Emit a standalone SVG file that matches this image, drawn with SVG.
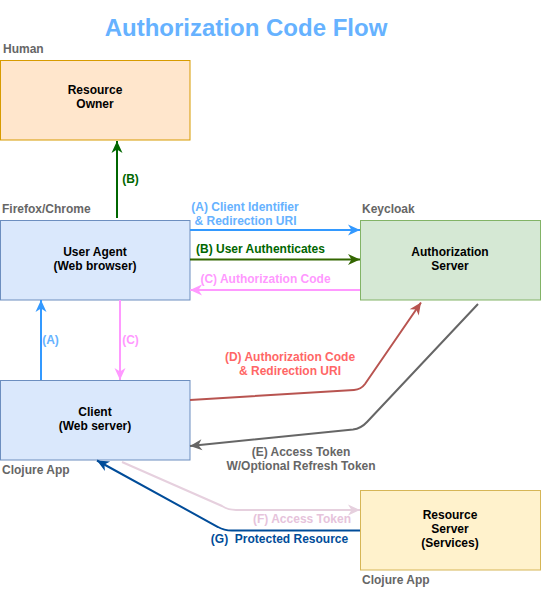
<svg xmlns="http://www.w3.org/2000/svg" width="541" height="591" viewBox="0 0 541 591">
<style>
text{font-family:"Liberation Sans",Arial,Helvetica,sans-serif;font-weight:bold;font-size:12px}
.title{font-size:24px;fill:#66B2FF}
.node{fill:#000;text-anchor:middle}
.tag{fill:#666666}
.lbl{text-anchor:middle}
.pre{white-space:pre}
.edge{fill:none;stroke-width:2}
</style>
<defs>
<marker id="mBlue" markerUnits="userSpaceOnUse" markerWidth="12" markerHeight="11" refX="12" refY="5.5" orient="auto" overflow="visible"><path d="M0,0 L12,5.5 L0,11 L3.5,5.5 Z" fill="#3399FF"/></marker>
<marker id="mGreen" markerUnits="userSpaceOnUse" markerWidth="12" markerHeight="11" refX="12" refY="5.5" orient="auto" overflow="visible"><path d="M0,0 L12,5.5 L0,11 L3.5,5.5 Z" fill="#006600"/></marker>
<marker id="mOlive" markerUnits="userSpaceOnUse" markerWidth="12" markerHeight="11" refX="12" refY="5.5" orient="auto" overflow="visible"><path d="M0,0 L12,5.5 L0,11 L3.5,5.5 Z" fill="#336600"/></marker>
<marker id="mPink" markerUnits="userSpaceOnUse" markerWidth="12" markerHeight="11" refX="12" refY="5.5" orient="auto" overflow="visible"><path d="M0,0 L12,5.5 L0,11 L3.5,5.5 Z" fill="#FF99FF"/></marker>
<marker id="mRed" markerUnits="userSpaceOnUse" markerWidth="12" markerHeight="11" refX="12" refY="5.5" orient="auto" overflow="visible"><path d="M0,0 L12,5.5 L0,11 L3.5,5.5 Z" fill="#B85450"/></marker>
<marker id="mGray" markerUnits="userSpaceOnUse" markerWidth="12" markerHeight="11" refX="12" refY="5.5" orient="auto" overflow="visible"><path d="M0,0 L12,5.5 L0,11 L3.5,5.5 Z" fill="#666666"/></marker>
<marker id="mLight" markerUnits="userSpaceOnUse" markerWidth="12" markerHeight="11" refX="12" refY="5.5" orient="auto" overflow="visible"><path d="M0,0 L12,5.5 L0,11 L3.5,5.5 Z" fill="#E6D0DE"/></marker>
<marker id="mNavy" markerUnits="userSpaceOnUse" markerWidth="12" markerHeight="11" refX="12" refY="5.5" orient="auto" overflow="visible"><path d="M0,0 L12,5.5 L0,11 L3.5,5.5 Z" fill="#004C99"/></marker>
</defs>
<rect width="541" height="591" fill="#ffffff"/>
<text class="title" x="246" y="35.5" text-anchor="middle">Authorization Code Flow</text>

<g id="resource-owner">
<rect x="0.5" y="60.5" width="189.5" height="79.5" fill="#ffe6cc" stroke="#d79b00"/>
<text class="node" x="95" y="94">Resource</text>
<text class="node" x="95" y="108">Owner</text>
<text class="tag" x="3" y="52.5">Human</text>
</g>

<g id="user-agent">
<rect x="0.5" y="220.5" width="189.5" height="79.5" fill="#dae8fc" stroke="#6c8ebf"/>
<text class="node" x="95" y="256">User Agent</text>
<text class="node" x="95" y="270">(Web browser)</text>
<text class="tag" x="2" y="213">Firefox/Chrome</text>
</g>

<g id="authorization-server">
<rect x="360.5" y="220.5" width="180" height="79.5" fill="#d5e8d4" stroke="#82b366"/>
<text class="node" x="450" y="256">Authorization</text>
<text class="node" x="450" y="270">Server</text>
<text class="tag" x="362" y="213">Keycloak</text>
</g>

<g id="client">
<rect x="0.5" y="380.5" width="189.5" height="79.5" fill="#dae8fc" stroke="#6c8ebf"/>
<text class="node" x="95" y="416">Client</text>
<text class="node" x="95" y="430">(Web server)</text>
<text class="tag" x="2" y="473.5">Clojure App</text>
</g>

<g id="resource-server">
<rect x="360.5" y="490.5" width="180" height="79.5" fill="#fff2cc" stroke="#d6b656"/>
<text class="node" x="450" y="519">Resource</text>
<text class="node" x="450" y="533">Server</text>
<text class="node" x="450" y="547">(Services)</text>
<text class="tag" x="362" y="583.5">Clojure App</text>
</g>

<g id="connectors">
<path class="edge" stroke="#006600" d="M117,218 L117,141" marker-end="url(#mGreen)"/>
<text class="lbl" x="130.5" y="182.5" fill="#006600">(B)</text>

<path class="edge" stroke="#3399FF" d="M190,230 L360,230" marker-end="url(#mBlue)"/>
<text class="lbl" x="245" y="211" fill="#66B2FF">(A) Client Identifier</text>
<text class="lbl" x="245.5" y="224.5" fill="#66B2FF">&amp; Redirection URI</text>

<path class="edge" stroke="#336600" d="M190,259.5 L360,259.5" marker-end="url(#mOlive)"/>
<text class="lbl" x="260.5" y="252.5" fill="#006600">(B) User Authenticates</text>

<path class="edge" stroke="#FF99FF" d="M360,290 L190,290" marker-end="url(#mPink)"/>
<text class="lbl" x="265.5" y="282.5" fill="#FF99FF">(C) Authorization Code</text>

<path class="edge" stroke="#3399FF" d="M41,380 L41,300" marker-end="url(#mBlue)"/>
<text class="lbl" x="50.5" y="343.5" fill="#66B2FF">(A)</text>

<path class="edge" stroke="#FF99FF" d="M120,300 L120,380" marker-end="url(#mPink)"/>
<text class="lbl" x="130.5" y="343.5" fill="#FF99FF">(C)</text>

<path class="edge" stroke="#B85450" d="M190,400 L354,390 Q361,389.5 365,384 L421,302.5" marker-end="url(#mRed)"/>
<text class="lbl" x="290" y="361" fill="#FF6666">(D) Authorization Code</text>
<text class="lbl" x="290" y="375" fill="#FF6666">&amp; Redirection URI</text>

<path class="edge" stroke="#666666" d="M478,304 L367,422 Q361,428.5 353,429.5 L190,446" marker-end="url(#mGray)"/>
<text class="lbl" x="301" y="455.5" fill="#666666">(E) Access Token</text>
<text class="lbl" x="301" y="469.5" fill="#666666">W/Optional Refresh Token</text>

<path class="edge" stroke="#E6D0DE" d="M122,462 L222,506 Q228,510 236,510 L360,510" marker-end="url(#mLight)"/>
<text class="lbl" x="302" y="523" fill="#E6C3DB">(F) Access Token</text>

<path class="edge" stroke="#004C99" d="M360,530.5 L232,530.5 Q224,530.5 218,527 L97,460.5" marker-end="url(#mNavy)"/>
<text class="lbl pre" x="279.5" y="543" fill="#004C99" xml:space="preserve">(G)  Protected Resource</text>
</g>
</svg>
